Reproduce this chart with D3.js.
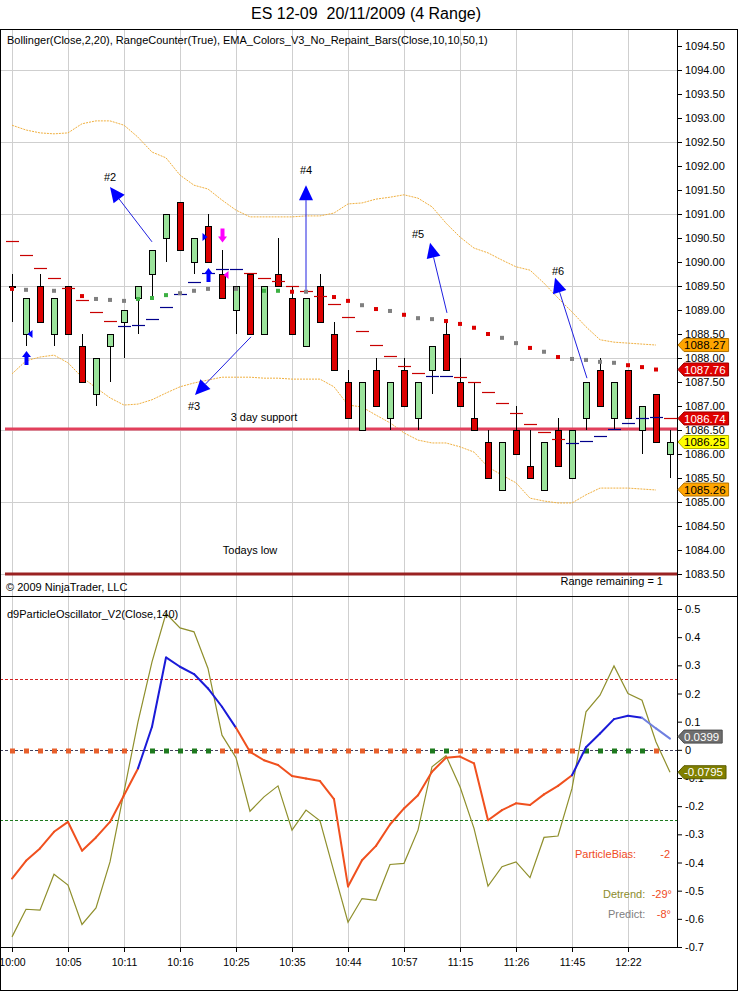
<!DOCTYPE html>
<html>
<head>
<meta charset="utf-8">
<script src="https://cdn.jsdelivr.net/npm/d3@7"></script>
<style>
body{margin:0;background:#fff;}
svg{display:block;font-family:"Liberation Sans",Arial,sans-serif;}
</style>
</head>
<body>
<svg id="chart" width="738" height="991"></svg>
<script>
// range bars (4 ticks)
var opens  = [1089.5,1088.5,1089.5,1088.5,1089.5,1088.25,1087.25,1088.25,1088.75,1089.25,1089.75,1090.5,1091.25,1090.0,1090.75,1089.75,1089.0,1089.75,1088.5,1089.75,1089.25,1088.25,1089.5,1088.5,1087.5,1086.5,1087.75,1086.75,1087.75,1086.75,1087.75,1088.5,1087.5,1086.75,1086.25,1085.25,1086.5,1085.75,1085.25,1086.5,1085.5,1086.75,1087.75,1086.75,1087.75,1086.5,1087.25,1086.0];
var highs  = [1089.75,1089.25,1089.75,1089.25,1089.5,1088.5,1088.0,1088.5,1089.0,1089.5,1090.25,1091.0,1091.25,1090.5,1091.0,1090.25,1089.5,1089.75,1089.5,1090.5,1089.5,1089.25,1089.75,1088.75,1087.75,1087.5,1088.0,1087.5,1088.0,1087.5,1088.25,1088.75,1088.0,1087.5,1086.5,1086.25,1087.0,1086.5,1086.25,1086.75,1086.5,1087.5,1088.0,1087.5,1087.75,1087.0,1087.25,1086.5];
var lows   = [1088.75,1088.25,1088.75,1088.25,1088.5,1087.5,1087.0,1087.5,1088.0,1088.5,1089.25,1090.0,1090.25,1089.75,1090.0,1089.25,1088.5,1088.5,1088.5,1089.5,1088.5,1088.25,1088.75,1087.75,1086.75,1086.5,1087.0,1086.5,1087.0,1086.5,1087.25,1087.75,1087.0,1086.5,1085.5,1085.25,1086.0,1085.5,1085.25,1085.75,1085.5,1086.5,1087.0,1086.5,1086.75,1086.0,1086.25,1085.5];
var closes = [1089.5,1089.25,1088.75,1089.25,1088.5,1087.5,1088.0,1088.5,1089.0,1089.5,1090.25,1091.0,1090.25,1090.5,1090.0,1089.25,1089.5,1088.5,1089.5,1089.5,1088.5,1089.25,1088.75,1087.75,1086.75,1087.5,1087.0,1087.5,1087.0,1087.5,1088.25,1087.75,1087.0,1086.5,1085.5,1086.25,1086.0,1085.5,1086.25,1085.75,1086.5,1087.5,1087.0,1087.5,1086.75,1087.0,1086.25,1086.25];

var timeLabels = ["10:00","10:05","10:11","10:16","10:25","10:35","10:44","10:57","11:15","11:26","11:45","12:22"];
var timeBars = [0,4,8,12,16,20,24,28,32,36,40,44];
var priceGrid = [1083.5,1085,1086.5,1088,1089.5,1091,1092.5,1094];

// Bollinger(Close,2,20)
var bbUpper = [1092.85,1092.75,1092.69,1092.67,1092.69,1092.88,1092.94,1092.94,1092.85,1092.60,1092.29,1092.17,1091.81,1091.60,1091.52,1091.29,1091.08,1090.94,1090.94,1090.94,1090.94,1090.96,1090.96,1091.02,1091.21,1091.23,1091.31,1091.35,1091.40,1091.33,1091.15,1090.81,1090.52,1090.29,1090.19,1090.04,1089.90,1089.83,1089.56,1089.25,1088.96,1088.65,1088.38,1088.33,1088.31,1088.29,1088.27];
var bbLower = [1087.67,1087.94,1088.02,1088.06,1087.90,1087.60,1087.38,1087.17,1087.02,1087.04,1087.13,1087.27,1087.40,1087.48,1087.54,1087.60,1087.60,1087.60,1087.58,1087.58,1087.56,1087.56,1087.56,1087.40,1087.02,1086.98,1086.81,1086.65,1086.44,1086.29,1086.23,1086.23,1086.15,1086.04,1085.73,1085.56,1085.40,1085.08,1085.02,1084.98,1084.98,1085.15,1085.29,1085.29,1085.29,1085.27,1085.25];

// EMA_Colors dots (n = neutral, r = down, g = up)
var emaDots = [1089.44,1089.42,1089.40,1089.40,1089.35,1089.29,1089.23,1089.21,1089.19,1089.23,1089.25,1089.31,1089.35,1089.40,1089.44,1089.46,1089.44,1089.42,1089.40,1089.40,1089.38,1089.38,1089.33,1089.27,1089.19,1089.10,1089.02,1088.98,1088.90,1088.83,1088.81,1088.77,1088.71,1088.63,1088.50,1088.42,1088.31,1088.21,1088.13,1088.02,1087.98,1087.96,1087.92,1087.90,1087.85,1087.81,1087.76];
var emaDotState = ["r","n","r","n","r","r","n","n","n","g","g","g","n","n","n","r","n","r","g","g","r","n","r","r","r","n","r","n","r","n","n","r","r","r","r","n","n","r","n","r","n","n","n","n","r","r","r"];

// trailing dashes (r = above price, b = below price)
var stepLine = [1090.44,1090.15,1089.88,1089.67,1089.46,1089.21,1088.96,1088.77,1088.67,1088.69,1088.81,1089.06,1089.33,1089.58,1089.77,1089.85,1089.85,1089.77,1089.67,1089.60,1089.50,1089.40,1089.29,1089.13,1088.85,1088.56,1088.27,1088.04,1087.83,1087.69,1087.63,1087.63,1087.60,1087.50,1087.29,1087.06,1086.85,1086.63,1086.46,1086.31,1086.23,1086.27,1086.38,1086.52,1086.65,1086.75,1086.77,1086.74];
var stepState = ["r","r","r","r","r","r","r","r","b","b","b","b","b","b","b","b","b","r","r","r","r","r","r","r","r","r","r","r","r","r","b","b","r","r","r","r","r","r","r","r","b","b","b","b","b","b","b","r"];

// signal markers
var markerBars = [1,1,14,14,15,15];
var markerPrices = [1088.0,1088.5,1090.52,1089.73,1090.55,1089.73];
var markerTypes = ["up","left","right","up","down","left"];
var markerKinds = ["buy","buy","buy","buy","sell","sell"];

// drawn arrows
var noteLabels = ["#2","#3","#4","#5","#6"];
var noteFromBar = [10,17.07,21,31.07,41.07];
var noteFromPrice = [1090.42,1088.44,1089.42,1088.94,1087.58];
var noteToBar = [7.0,13.07,21,29.86,38.79];
var noteToPrice = [1091.56,1087.23,1091.6,1090.40,1089.67];
var noteLabelBar = [7.0,13.0,21.0,29.0,39.0];
var noteLabelPrice = [1091.77,1087.0,1091.92,1090.58,1089.81];

var supportPrice = 1086.52;
var todaysLow = 1083.5;

// price tags on the axis
var tagValues = [1088.27,1087.76,1086.74,1086.25,1085.26];
var tagKinds = ["band","ema","step","close","band"];

// d9ParticleOscillator_V2(Close,140)
var oscValues = [-0.457,-0.394,-0.350,-0.291,-0.256,-0.358,-0.311,-0.256,-0.161,-0.066,0.082,0.328,0.295,0.269,0.218,0.153,0.078,-0.007,-0.037,-0.054,-0.093,-0.102,-0.111,-0.175,-0.485,-0.392,-0.341,-0.265,-0.208,-0.161,-0.078,-0.028,-0.024,-0.048,-0.250,-0.214,-0.190,-0.196,-0.158,-0.128,-0.090,0.009,0.058,0.109,0.121,0.114,0.076,0.0399];
var detrend = [-0.664,-0.566,-0.569,-0.442,-0.480,-0.620,-0.561,-0.398,-0.149,0.099,0.312,0.484,0.433,0.419,0.289,0.052,-0.028,-0.218,-0.167,-0.128,-0.285,-0.214,-0.252,-0.433,-0.612,-0.528,-0.534,-0.407,-0.403,-0.285,-0.060,-0.021,-0.131,-0.279,-0.484,-0.415,-0.398,-0.454,-0.311,-0.306,-0.137,0.135,0.194,0.298,0.200,0.176,0.028,-0.0795];
var zeroDots = ["o","o","o","o","o","o","o","o","o",null,"g","g","g","g","g","o","o","o","o","o","o","o","o","o","o","o","o","o","o","o","g","g","o","o","o","o","o","o","o","o","o","g","g","g","g","g","o",null];
var oscLevels = [0.25,0,-0.25];

var svg = d3.select("#chart");
var plotRight = 677, priceTop = 29, panelSplit = 596, oscBottom = 947;

var x = d3.scaleLinear().domain([0, 47]).range([12, 670]);
var yP = d3.scaleLinear().domain([1083.5, 1094.5]).range([574, 46]);
var yO = d3.scaleLinear().domain([-0.7, 0.5]).range([947, 609]);

svg.append("rect").attr("width", 738).attr("height", 991).attr("fill", "#fff");

svg.append("text")
  .attr("x", 366).attr("y", 19)
  .attr("text-anchor", "middle")
  .style("font-size", "16px").style("white-space", "pre")
  .text("ES 12-09  20/11/2009 (4 Range)");

var defs = svg.append("defs");
defs.append("clipPath").attr("id", "clipP").append("rect")
  .attr("x", 0).attr("y", priceTop).attr("width", plotRight).attr("height", panelSplit - priceTop);
defs.append("clipPath").attr("id", "clipO").append("rect")
  .attr("x", 0).attr("y", panelSplit).attr("width", plotRight).attr("height", oscBottom - panelSplit);

// ---------- price panel ----------
var gp = svg.append("g").attr("clip-path", "url(#clipP)");

gp.selectAll(".vgrid").data(timeBars).enter().append("line")
  .attr("x1", d => x(d) + 0.5).attr("x2", d => x(d) + 0.5)
  .attr("y1", priceTop).attr("y2", panelSplit)
  .attr("stroke", "#cfcfcf");
gp.selectAll(".hgrid").data(priceGrid).enter().append("line")
  .attr("x1", 0).attr("x2", plotRight)
  .attr("y1", d => Math.round(yP(d)) + 0.5).attr("y2", d => Math.round(yP(d)) + 0.5)
  .attr("stroke", "#cfcfcf");

// bollinger bands
var bandLine = d3.line().x((d, i) => x(i)).y(d => yP(d));
[bbUpper, bbLower].forEach(function(b){
  gp.append("path").attr("d", bandLine(b))
    .attr("fill", "none").attr("stroke", "#f0b040")
    .attr("stroke-width", 1).attr("stroke-dasharray", "2,1");
});

// support / low lines
gp.append("line").attr("x1", 5).attr("x2", plotRight)
  .attr("y1", yP(supportPrice)).attr("y2", yP(supportPrice))
  .attr("stroke", "#e2405c").attr("stroke-width", 3);
gp.append("line").attr("x1", 5).attr("x2", plotRight)
  .attr("y1", yP(todaysLow)).attr("y2", yP(todaysLow))
  .attr("stroke", "#9a2222").attr("stroke-width", 3);

gp.append("text").attr("x", 264).attr("y", 421).attr("text-anchor", "middle")
  .style("font-size", "11px").text("3 day support");
gp.append("text").attr("x", 250).attr("y", 554).attr("text-anchor", "middle")
  .style("font-size", "11px").text("Todays low");

// candles
var bars = d3.range(opens.length);
gp.selectAll(".wick").data(bars).enter().append("line")
  .attr("x1", i => x(i) + 0.5).attr("x2", i => x(i) + 0.5)
  .attr("y1", i => yP(highs[i])).attr("y2", i => yP(lows[i]))
  .attr("stroke", "#000");
gp.selectAll(".body").data(bars).enter().append("rect")
  .attr("x", i => x(i) - 2.5).attr("width", 6)
  .attr("y", i => Math.round(yP(Math.max(opens[i], closes[i]))) + 0.5)
  .attr("height", i => Math.max(1, Math.abs(yP(opens[i]) - yP(closes[i]))))
  .attr("fill", i => closes[i] >= opens[i] ? "#9be39b" : "#dc0000")
  .attr("stroke", "#000").attr("shape-rendering", "crispEdges");

// step dashes
gp.selectAll(".step").data(bars).enter().append("line")
  .attr("x1", i => x(i) - 6).attr("x2", i => x(i) + 7)
  .attr("y1", i => Math.round(yP(stepLine[i])) + 0.5).attr("y2", i => Math.round(yP(stepLine[i])) + 0.5)
  .attr("stroke", i => stepState[i] === "r" ? "#c80000" : "#00008b")
  .attr("stroke-width", 1.2);

// ema dots
var dotColor = {n: "#808080", r: "#dc0000", g: "#3cb043"};
gp.selectAll(".ema").data(emaDots).enter().append("rect")
  .attr("x", (d, i) => x(i) - 2).attr("y", d => yP(d) - 2)
  .attr("width", 4).attr("height", 4)
  .attr("fill", (d, i) => dotColor[emaDotState[i]]);

// signal markers
var markColor = {buy: "#0000ff", sell: "#ff00ff"};
function markerPath(t, cx, cy){
  if (t === "up") return `M${cx},${cy-7}L${cx+4.5},${cy-1}L${cx+2},${cy-1}L${cx+2},${cy+7}L${cx-2},${cy+7}L${cx-2},${cy-1}L${cx-4.5},${cy-1}Z`;
  if (t === "down") return `M${cx},${cy+7}L${cx+4.5},${cy+1}L${cx+2},${cy+1}L${cx+2},${cy-7}L${cx-2},${cy-7}L${cx-2},${cy+1}L${cx-4.5},${cy+1}Z`;
  if (t === "left") return `M${cx+1},${cy}L${cx+6},${cy-4}L${cx+6},${cy+4}Z`;
  return `M${cx-1},${cy}L${cx-6},${cy-4}L${cx-6},${cy+4}Z`;
}
gp.selectAll(".mark").data(markerBars).enter().append("path")
  .attr("d", (d, i) => markerPath(markerTypes[i], x(d) + 0.5, yP(markerPrices[i])))
  .attr("fill", (d, i) => markColor[markerKinds[i]]);

// drawn arrows with labels
noteLabels.forEach(function(lab, i){
  var x1 = x(noteFromBar[i]), y1 = yP(noteFromPrice[i]);
  var x2 = x(noteToBar[i]), y2 = yP(noteToPrice[i]);
  var dx = x2 - x1, dy = y2 - y1, len = Math.sqrt(dx*dx + dy*dy);
  var ux = dx / len, uy = dy / len;
  var bx = x2 - ux * 15, by = y2 - uy * 15;
  gp.append("line").attr("x1", x1).attr("y1", y1).attr("x2", bx).attr("y2", by)
    .attr("stroke", "#2020e0").attr("stroke-width", 1);
  gp.append("path")
    .attr("d", `M${x2},${y2}L${bx - uy*7},${by + ux*7}L${bx + uy*7},${by - ux*7}Z`)
    .attr("fill", "#0000ff");
  gp.append("text").attr("x", x(noteLabelBar[i])).attr("y", yP(noteLabelPrice[i]))
    .attr("dy", "0.35em").attr("text-anchor", "middle")
    .style("font-size", "11px").text(lab);
});

svg.append("text").attr("x", 7).attr("y", 44).style("font-size", "11px")
  .text("Bollinger(Close,2,20), RangeCounter(True), EMA_Colors_V3_No_Repaint_Bars(Close,10,10,50,1)");
svg.append("text").attr("x", 6).attr("y", 591).style("font-size", "11px")
  .text("\u00a9 2009 NinjaTrader, LLC");
svg.append("text").attr("x", 663).attr("y", 585).attr("text-anchor", "end").style("font-size", "11px")
  .text("Range remaining = 1");

// ---------- oscillator panel ----------
var go = svg.append("g").attr("clip-path", "url(#clipO)");

go.selectAll(".vgrid").data(timeBars).enter().append("line")
  .attr("x1", d => x(d) + 0.5).attr("x2", d => x(d) + 0.5)
  .attr("y1", panelSplit).attr("y2", oscBottom)
  .attr("stroke", "#cfcfcf");

var levelColor = ["#d42020", "#40405a", "#1f7a1f"];
go.selectAll(".lvl").data(oscLevels).enter().append("line")
  .attr("x1", 0).attr("x2", plotRight)
  .attr("y1", d => Math.round(yO(d)) + 0.5).attr("y2", d => Math.round(yO(d)) + 0.5)
  .attr("stroke", (d, i) => levelColor[i]).attr("stroke-dasharray", "3,2");

// colored dots on the zero line
var zeroColor = {o: "#e8602c", g: "#1e7a1e"};
go.selectAll(".zd").data(bars.filter(i => zeroDots[i] !== null)).enter().append("rect")
  .attr("x", i => x(i) - 2).attr("y", Math.round(yO(0)) - 1.5)
  .attr("width", 5).attr("height", 5)
  .attr("fill", i => zeroColor[zeroDots[i]]);

var oscLine = d3.line().x((d, i) => x(i)).y(d => yO(d));
go.append("path").attr("d", oscLine(detrend))
  .attr("fill", "none").attr("stroke", "#8f8f2c").attr("stroke-width", 1.2);

// particle line: colour by sign of segment end, last part light
for (var i = 1; i < oscValues.length; i++) {
  var col = oscValues[i] >= 0 ? "#1a1ad8" : "#f0501e";
  if (i >= oscValues.length - 2) col = "#6f7fe0";
  go.append("path")
    .attr("d", d3.line()([[x(i-1), yO(oscValues[i-1])], [x(i), yO(oscValues[i])]]))
    .attr("stroke", col).attr("stroke-width", 2).attr("stroke-linecap", "round");
}

svg.append("text").attr("x", 7).attr("y", 618).style("font-size", "11px")
  .text("d9ParticleOscillator_V2(Close,140)");

var info = svg.append("g").style("font-size", "11px");
info.append("text").attr("x", 575).attr("y", 858).attr("fill", "#f04a24").text("ParticleBias:");
info.append("text").attr("x", 670).attr("y", 858).attr("text-anchor", "end").attr("fill", "#f04a24").text("-2");
info.append("text").attr("x", 603).attr("y", 898).attr("fill", "#8b8b2b").text("Detrend:");
info.append("text").attr("x", 672).attr("y", 898).attr("text-anchor", "end").attr("fill", "#f04a24").text("-29\u00b0");
info.append("text").attr("x", 608).attr("y", 918).attr("fill", "#808080").text("Predict:");
info.append("text").attr("x", 671).attr("y", 918).attr("text-anchor", "end").attr("fill", "#f04a24").text("-8\u00b0");

// ---------- axes ----------
var axP = svg.append("g").attr("transform", `translate(${plotRight},0)`)
  .call(d3.axisRight(yP).tickValues(d3.range(1083.5, 1094.51, 0.5)).tickFormat(d3.format(".2f")).tickSize(5).tickSizeOuter(0));
var axO = svg.append("g").attr("transform", `translate(${plotRight},0)`)
  .call(d3.axisRight(yO).tickValues(d3.range(-0.7, 0.51, 0.1))
    .tickFormat(d => String(Math.round(d * 10) / 10)).tickSize(5).tickSizeOuter(0));
var axX = svg.append("g").attr("transform", `translate(0,${oscBottom})`)
  .call(d3.axisBottom(x).tickValues(timeBars).tickFormat((d, i) => timeLabels[i]).tickSize(5).tickSizeOuter(0));
[axP, axO, axX].forEach(function(a){
  a.select(".domain").remove();
  a.attr("font-family", null).attr("font-size", null);
  a.selectAll("line").attr("stroke", "#000");
  a.selectAll("text").attr("fill", "#000").style("font-size", "11px");
});
axX.selectAll("text").style("font-size", "10.5px").attr("dy", "1.0em");

// frame
svg.append("rect").attr("x", 0.5).attr("y", priceTop + 0.5).attr("width", 737).attr("height", 990 - priceTop)
  .attr("fill", "none").attr("stroke", "#000");
svg.append("line").attr("x1", 0).attr("x2", 738).attr("y1", panelSplit + 0.5).attr("y2", panelSplit + 0.5).attr("stroke", "#000");
svg.append("line").attr("x1", plotRight + 0.5).attr("x2", plotRight + 0.5).attr("y1", priceTop).attr("y2", oscBottom).attr("stroke", "#000");
svg.append("line").attr("x1", 0).attr("x2", plotRight).attr("y1", oscBottom + 0.5).attr("y2", oscBottom + 0.5).attr("stroke", "#000");

// value tags
var tagFill = {band: "#ffa500", ema: "#e00000", step: "#e00000", close: "#ffff00", gray: "#6e6e6e", olive: "#808000"};
var tagText = {band: "#000", ema: "#fff", step: "#fff", close: "#000", gray: "#fff", olive: "#fff"};
function drawTag(y, label, kind){
  var g = svg.append("g");
  var p = g.append("path");
  var t = g.append("text").attr("x", plotRight + 7).attr("y", y).attr("dy", "0.36em")
    .style("font-size", "11.5px").attr("fill", tagText[kind]).text(label);
  var w = t.node().getComputedTextLength() + 9;
  var x0 = plotRight + 1;
  p.attr("d", `M${x0},${y}L${x0+6},${y-6.5}L${x0+w},${y-6.5}L${x0+w},${y+6.5}L${x0+6},${y+6.5}Z`)
    .attr("fill", tagFill[kind]).attr("stroke", d3.color(tagFill[kind]).darker(1));
}
tagValues.forEach(function(v, i){ drawTag(yP(v), v.toFixed(2), tagKinds[i]); });
drawTag(yO(oscValues[oscValues.length - 1]) - 2, oscValues[oscValues.length - 1].toFixed(4), "gray");
drawTag(yO(detrend[detrend.length - 1]), detrend[detrend.length - 1].toFixed(4), "olive");
</script>
</body>
</html>
